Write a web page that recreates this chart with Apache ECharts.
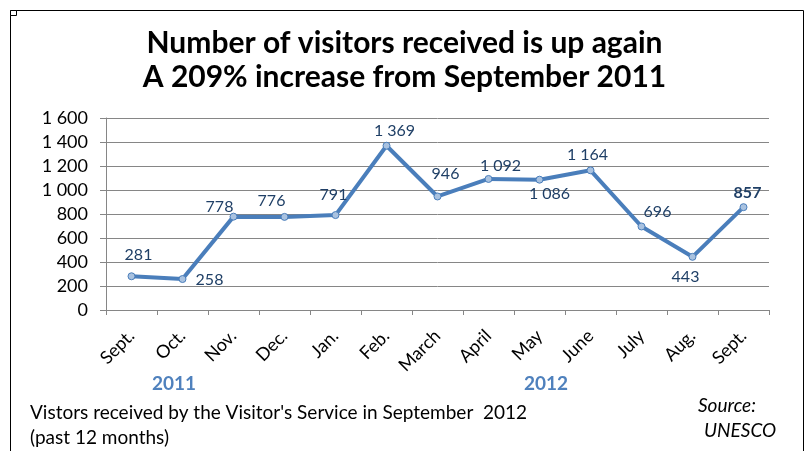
<!DOCTYPE html>
<html>
<head>
<meta charset="utf-8">
<script src="https://cdn.jsdelivr.net/npm/echarts@6/dist/echarts.min.js"></script>
<style>
html,body{margin:0;padding:0;background:#fff;}
#c{width:809px;height:451px;}
</style>
</head>
<body>
<div id="c"></div>
<script>
const categories = ['Sept.', 'Oct.', 'Nov.', 'Dec.', 'Jan.', 'Feb.', 'March', 'April', 'May', 'June', 'July', 'Aug.', 'Sept.'];
const visitors = [281, 258, 778, 776, 791, 1369, 946, 1092, 1086, 1164, 696, 443, 857];
const yTicks = [0, 200, 400, 600, 800, 1000, 1200, 1400, 1600];
const titleLines = ['Number of visitors received is up again', 'A 209% increase from September 2011'];
const yearLabels = ['2011', '2012'];
const footnoteLines = ["Vistors received by the Visitor's Service in September  2012", '(past 12 months)'];
const sourceLines = ['Source:', 'UNESCO'];

// label offsets (style only)
const labelOffsets = [[7,-21],[27,1],[-14,-10],[-13,-16],[-2,-20],[8,-15],[8,-23],[12,-13],[10,14],[-3,-15],[16,-15],[-7,20],[4,-14]];

function fmt(v){ return String(v).replace(/\B(?=(\d{3})+(?!\d))/g, ' '); }

const FONT = 'Lato';
const chart = echarts.init(document.getElementById('c'), null, {renderer:'canvas'});
const seriesData = visitors.map((v,i)=>({
  value: v,
  label: {
    offset: labelOffsets[i],
    fontWeight: i === visitors.length-1 ? 'bold' : 'normal'
  }
}));

chart.setOption({
  animation: false,
  backgroundColor: '#fff',
  title: {
    text: titleLines.join('\n'),
    left: 'center',
    top: 21,
    textStyle: {fontFamily: FONT, fontWeight: 'bold', fontSize: 30, color: '#000', lineHeight: 34}
  },
  grid: {left: 106, right: 40, top: 118, bottom: 141},
  xAxis: {
    type: 'category',
    data: categories,
    boundaryGap: true,
    axisLine: {lineStyle: {color: '#868686', width: 1}},
    axisTick: {show: true, length: 5, lineStyle: {color: '#868686'}},
    axisLabel: {rotate: 45, margin: 23, fontFamily: FONT, fontSize: 18, color: '#000', interval: 0}
  },
  yAxis: {
    type: 'value',
    min: yTicks[0],
    max: yTicks[yTicks.length-1],
    interval: yTicks[1]-yTicks[0],
    axisLine: {show: true, lineStyle: {color: '#868686', width: 1}},
    axisTick: {show: true, length: 6, lineStyle: {color: '#868686'}},
    splitLine: {lineStyle: {color: '#868686', width: 1}},
    axisLabel: {margin: 18, fontFamily: FONT, fontSize: 18, color: '#000', formatter: v => fmt(v)}
  },
  series: [{
    type: 'line',
    data: seriesData,
    symbol: 'circle',
    symbolSize: 7,
    lineStyle: {color: '#4A7EBB', width: 4},
    itemStyle: {color: '#A9C2E0', borderColor: '#4A7EBB', borderWidth: 1},
    label: {
      show: true,
      position: 'inside',
      align: 'center',
      verticalAlign: 'middle',
      fontFamily: FONT,
      fontSize: 16,
      color: '#1F3F66',
      formatter: p => fmt(p.value)
    }
  }],
  graphic: [
    {type: 'rect', shape: {x: 10.5, y: 10.5, width: 793, height: 470}, style: {fill: 'none', stroke: '#000', lineWidth: 1}, silent: true, z: 100},
    {type: 'rect', shape: {x: 10.5, y: 10.5, width: 6, height: 5}, style: {fill: '#fff', stroke: '#000', lineWidth: 1}, silent: true, z: 101},
    {type: 'text', x: 174, y: 384, style: {text: yearLabels[0], font: 'bold 19px ' + FONT, fill: '#4F81BD', align: 'center', verticalAlign: 'middle'}},
    {type: 'text', x: 546, y: 384, style: {text: yearLabels[1], font: 'bold 19px ' + FONT, fill: '#4F81BD', align: 'center', verticalAlign: 'middle'}},
    {type: 'text', x: 30, y: 413, style: {text: footnoteLines[0], font: '19px ' + FONT, fill: '#000', align: 'left', verticalAlign: 'middle'}},
    {type: 'text', x: 30, y: 438, style: {text: footnoteLines[1], font: '19px ' + FONT, fill: '#000', align: 'left', verticalAlign: 'middle'}},
    {type: 'text', x: 698, y: 406, style: {text: sourceLines[0], font: 'italic 19px ' + FONT, fill: '#000', align: 'left', verticalAlign: 'middle'}},
    {type: 'text', x: 704, y: 431, style: {text: sourceLines[1], font: 'italic 19px ' + FONT, fill: '#000', align: 'left', verticalAlign: 'middle'}}
  ]
});
</script>
</body>
</html>
